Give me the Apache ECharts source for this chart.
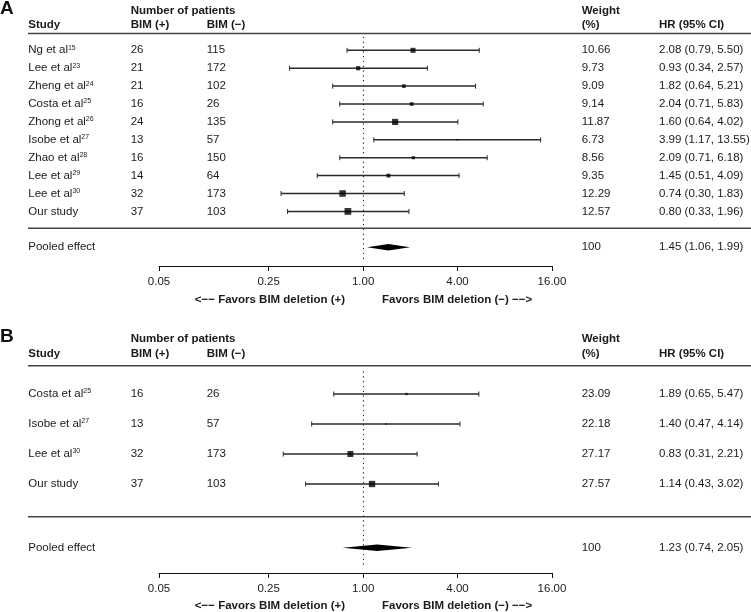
<!DOCTYPE html>
<html>
<head>
<meta charset="utf-8">
<script src="https://cdn.jsdelivr.net/npm/echarts@6/dist/echarts.min.js"></script>
<style>
  html, body { margin: 0; padding: 0; background: #fff; }
  #chart { width: 751px; height: 612px; }
</style>
</head>
<body>
<div id="chart"></div>
<script>
// ---------------- DATA ----------------
// Panel A
const studiesA = ['Ng et al', 'Lee et al', 'Zheng et al', 'Costa et al', 'Zhong et al', 'Isobe et al', 'Zhao et al', 'Lee et al', 'Lee et al', 'Our study'];
const refsA = ['15', '23', '24', '25', '26', '27', '28', '29', '30', ''];
const bimPosA = [26, 21, 21, 16, 24, 13, 16, 14, 32, 37];
const bimNegA = [115, 172, 102, 26, 135, 57, 150, 64, 173, 103];
const weightA = [10.66, 9.73, 9.09, 9.14, 11.87, 6.73, 8.56, 9.35, 12.29, 12.57];
const hrA = [2.08, 0.93, 1.82, 2.04, 1.60, 3.99, 2.09, 1.45, 0.74, 0.80];
const loA = [0.79, 0.34, 0.64, 0.71, 0.64, 1.17, 0.71, 0.51, 0.30, 0.33];
const hiA = [5.50, 2.57, 5.21, 5.83, 4.02, 13.55, 6.18, 4.09, 1.83, 1.96];
const pooledA = [1.45, 1.06, 1.99];   // HR, lower, upper
const pooledWeightA = '100';

// Panel B
const studiesB = ['Costa et al', 'Isobe et al', 'Lee et al', 'Our study'];
const refsB = ['25', '27', '30', ''];
const bimPosB = [16, 13, 32, 37];
const bimNegB = [26, 57, 173, 103];
const weightB = [23.09, 22.18, 27.17, 27.57];
const hrB = [1.89, 1.40, 0.83, 1.14];
const loB = [0.65, 0.47, 0.31, 0.43];
const hiB = [5.47, 4.14, 2.21, 3.02];
const pooledB = [1.23, 0.74, 2.05];
const pooledWeightB = '100';

// Axis tick values (hazard ratio)
const xTicks = [0.05, 0.25, 1, 4, 16];

// ---------------- LAYOUT / STYLE ----------------
const FONT = '"Liberation Sans", Arial, Helvetica, sans-serif';
const TXT = '#1a1a1a';
const LINEC = '#2a2a2a';
const L = v => Math.log(v) / Math.log(4);   // log4 scale
const fmt2 = v => v.toFixed(2);
const colX = { study: 28.3, pos: 130.7, neg: 206.7, weight: 581.7, hr: 659 };

const panels = [
  { key: 'A', studies: studiesA, refs: refsA, pos: bimPosA, neg: bimNegA, w: weightA, hr: hrA, lo: loA, hi: hiA,
    pooled: pooledA, pooledW: pooledWeightA,
    grid: { left: 159, width: 393, top: 36, height: 230 }, yMin: -0.8, yMax: 12.05,
    pooledRow: 11, dotFrom: -0.75, dotTo: 11.8,
    letterY: 9, h1: 10.7, h2: 25, rule: 33.5, sep: 228.3, title: 299.5 },
  { key: 'B', studies: studiesB, refs: refsB, pos: bimPosB, neg: bimNegB, w: weightB, hr: hrB, lo: loB, hi: hiB,
    pooled: pooledB, pooledW: pooledWeightB,
    grid: { left: 159, width: 393, top: 370, height: 203 }, yMin: -0.8, yMax: -0.8 + 203 / 30,
    pooledRow: 5.123, dotFrom: -0.75, dotTo: 5.8,
    letterY: 337, h1: 339.3, h2: 354.3, rule: 365.7, sep: 516.7, title: 605.5 }
];

const grids = [], xAxes = [], yAxes = [], series = [], graphics = [];

function txt(x, y, text, opts) {
  return {
    type: 'text', x: x, y: y, silent: true,
    style: Object.assign({ text: text, fontFamily: FONT, fontSize: 11.5, fill: TXT, align: 'left', verticalAlign: 'middle' }, opts || {})
  };
}
const B = { fontWeight: 'bold' };

panels.forEach((p, gi) => {
  grids.push(Object.assign({ containLabel: false }, p.grid));
  xAxes.push({
    type: 'value', gridIndex: gi,
    min: L(0.05), max: L(16),
    splitLine: { show: false },
    axisLine: { show: true, onZero: false, lineStyle: { color: '#111', width: 1 } },
    axisTick: { show: true, length: 5, lineStyle: { color: '#111', width: 1 }, customValues: xTicks.map(L) },
    axisLabel: {
      show: true, margin: 10, fontFamily: FONT, fontSize: 11.5, color: TXT,
      customValues: xTicks.map(L),
      formatter: v => fmt2(Math.pow(4, v))
    }
  });
  yAxes.push({
    type: 'value', gridIndex: gi, inverse: true, min: p.yMin, max: p.yMax,
    show: false, splitLine: { show: false }
  });

  const minW = Math.min.apply(null, p.w);

  // CI lines with end caps
  series.push({
    type: 'custom', xAxisIndex: gi, yAxisIndex: gi, silent: true, clip: false,
    data: p.lo.map((v, i) => [L(v), L(p.hi[i]), i]),
    renderItem: (params, api) => {
      const y = api.value(2);
      const a = api.coord([api.value(0), y]);
      const b = api.coord([api.value(1), y]);
      const h = 2.5;
      const st = { stroke: LINEC, lineWidth: 1.5 };
      return {
        type: 'group', children: [
          { type: 'line', shape: { x1: a[0], y1: a[1], x2: b[0], y2: b[1] }, style: st },
          { type: 'line', shape: { x1: a[0], y1: a[1] - h, x2: a[0], y2: a[1] + h }, style: { stroke: LINEC, lineWidth: 1 } },
          { type: 'line', shape: { x1: b[0], y1: b[1] - h, x2: b[0], y2: b[1] + h }, style: { stroke: LINEC, lineWidth: 1 } }
        ]
      };
    }
  });

  // Study point estimates (squares sized by weight)
  series.push({
    type: 'scatter', xAxisIndex: gi, yAxisIndex: gi, silent: true,
    symbol: 'rect',
    symbolSize: val => 1.5 + (val[2] - minW) * 0.9,
    itemStyle: { color: '#000' },
    data: p.hr.map((v, i) => [L(v), i, p.w[i]]),
    markLine: {
      silent: true, symbol: 'none', label: { show: false },
      lineStyle: { type: [1.2, 3.6], color: '#222', width: 1.1 },
      data: [[{ coord: [0, p.dotFrom] }, { coord: [0, p.dotTo] }]]
    }
  });

  // Pooled effect diamond
  series.push({
    type: 'custom', xAxisIndex: gi, yAxisIndex: gi, silent: true, clip: false,
    data: [[L(p.pooled[1]), L(p.pooled[0]), L(p.pooled[2]), p.pooledRow]],
    renderItem: (params, api) => {
      const y = api.value(3);
      const a = api.coord([api.value(0), y]);
      const c = api.coord([api.value(1), y]);
      const b = api.coord([api.value(2), y]);
      const h = 3.3;
      return {
        type: 'polygon',
        shape: { points: [[a[0], a[1]], [c[0], c[1] - h], [b[0], b[1]], [c[0], c[1] + h]] },
        style: { fill: '#000' }
      };
    }
  });

  // Table text (one row per study + pooled row)
  const rows = p.studies.map((s, i) => [0, i]);
  rows.push([0, p.pooledRow]);
  series.push({
    type: 'custom', xAxisIndex: gi, yAxisIndex: gi, silent: true, clip: false,
    data: rows,
    renderItem: (params, api) => {
      const i = params.dataIndex;
      const y = api.coord([0, api.value(1)])[1];
      const base = { fontFamily: FONT, fontSize: 11.5, fill: TXT, align: 'left', verticalAlign: 'middle' };
      const mk = (x, text, extra) => ({ type: 'text', x: x, y: y, style: Object.assign({ text: text }, base, extra || {}) });
      if (i < p.studies.length) {
        const ref = p.refs[i];
        const label = ref ? '{n|' + p.studies[i] + '}{s|' + ref + '}' : '{n|' + p.studies[i] + '}';
        return {
          type: 'group', children: [
            mk(colX.study, label, {
              rich: {
                n: { fontFamily: FONT, fontSize: 11.5, fill: TXT, lineHeight: 12, verticalAlign: 'middle' },
                s: { fontFamily: FONT, fontSize: 7, fill: TXT, lineHeight: 8, verticalAlign: 'top' }
              }
            }),
            mk(colX.pos, String(p.pos[i])),
            mk(colX.neg, String(p.neg[i])),
            mk(colX.weight, fmt2(p.w[i])),
            mk(colX.hr, fmt2(p.hr[i]) + ' (' + fmt2(p.lo[i]) + ', ' + fmt2(p.hi[i]) + ')')
          ]
        };
      }
      return {
        type: 'group', children: [
          mk(colX.study, 'Pooled effect'),
          mk(colX.weight, p.pooledW),
          mk(colX.hr, fmt2(p.pooled[0]) + ' (' + fmt2(p.pooled[1]) + ', ' + fmt2(p.pooled[2]) + ')')
        ]
      };
    }
  });

  // Headers, rules, axis titles
  graphics.push(txt(0, p.letterY, p.key, { fontSize: 19, fontWeight: 'bold', fill: '#111' }));
  graphics.push(txt(colX.pos, p.h1, 'Number of patients', B));
  graphics.push(txt(colX.study, p.h2, 'Study', B));
  graphics.push(txt(colX.pos, p.h2, 'BIM (+)', B));
  graphics.push(txt(colX.neg, p.h2, 'BIM (\u2212)', B));
  graphics.push(txt(colX.weight, p.h1, 'Weight', B));
  graphics.push(txt(colX.weight, p.h2, '(%)', B));
  graphics.push(txt(colX.hr, p.h2, 'HR (95% CI)', B));
  graphics.push({ type: 'line', silent: true, shape: { x1: 28, y1: p.rule, x2: 751, y2: p.rule }, style: { stroke: '#444', lineWidth: 1.5 } });
  graphics.push({ type: 'line', silent: true, shape: { x1: 28, y1: p.sep, x2: 751, y2: p.sep }, style: { stroke: '#444', lineWidth: 1.5 } });
  graphics.push(txt(345, p.title, '<\u2212\u2212 Favors BIM deletion (+)', Object.assign({ align: 'right' }, B)));
  graphics.push(txt(382, p.title, 'Favors BIM deletion (\u2212) \u2212\u2212>', B));
});

const chart = echarts.init(document.getElementById('chart'), null, { renderer: 'canvas' });
chart.setOption({
  animation: false,
  backgroundColor: '#fff',
  grid: grids,
  xAxis: xAxes,
  yAxis: yAxes,
  series: series,
  graphic: graphics
});
</script>
</body>
</html>
